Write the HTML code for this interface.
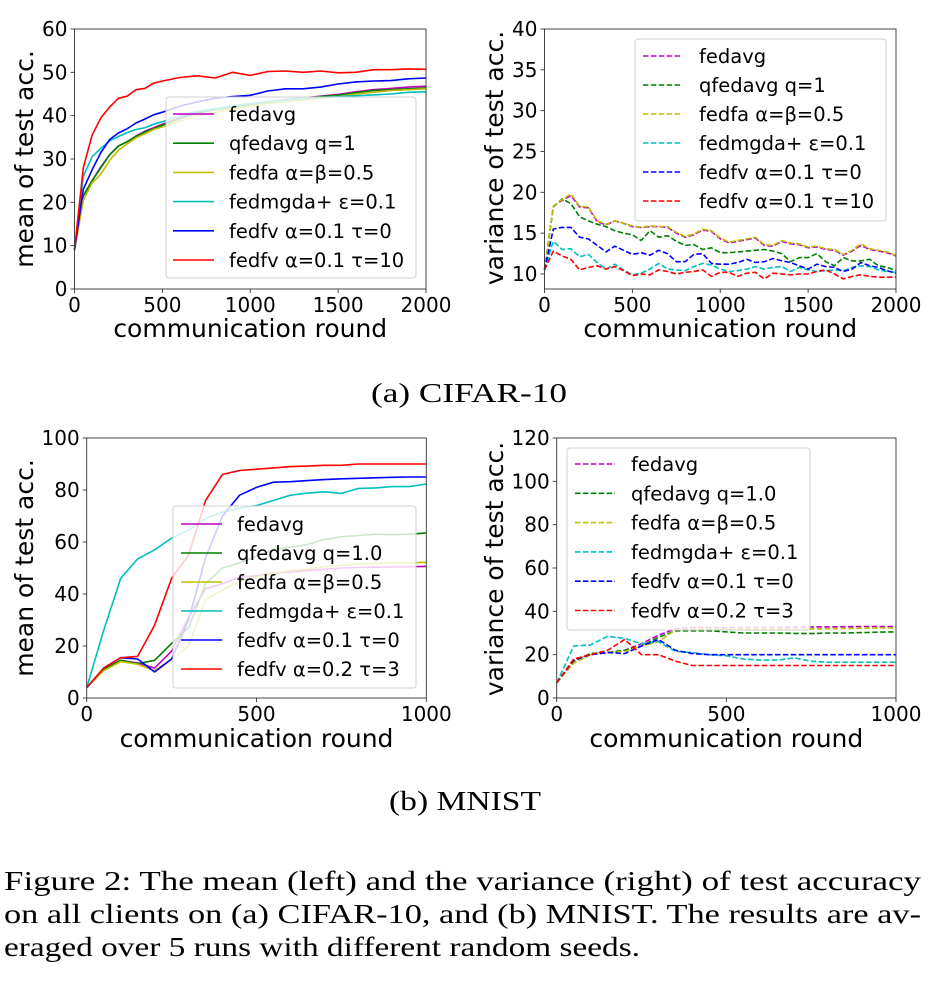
<!DOCTYPE html>
<html><head><meta charset="utf-8"><style>
html,body{margin:0;padding:0;background:#fff;}
svg{display:block;}
text{font-family:"DejaVu Sans","Liberation Sans",sans-serif;fill:#000;}
.serif{font-family:"Liberation Serif",serif;}
</style></head><body>
<svg id="fig" width="947" height="1002" viewBox="0 0 947 1002" xmlns="http://www.w3.org/2000/svg">
<text class="serif" x="371" y="402" font-size="27" textLength="196" lengthAdjust="spacingAndGlyphs">(a) CIFAR-10</text>
<text class="serif" x="389" y="810" font-size="27" textLength="152" lengthAdjust="spacingAndGlyphs">(b) MNIST</text>
<text class="serif" x="4" y="890" font-size="27" textLength="917" lengthAdjust="spacingAndGlyphs">Figure 2: The mean (left) and the variance (right) of test accuracy</text>
<text class="serif" x="4" y="923" font-size="27" textLength="917" lengthAdjust="spacingAndGlyphs">on all clients on (a) CIFAR-10, and (b) MNIST. The results are av-</text>
<text class="serif" x="4" y="956" font-size="27" textLength="636" lengthAdjust="spacingAndGlyphs">eraged over 5 runs with different random seeds.</text>
</svg>
<script>
const NS="http://www.w3.org/2000/svg";
const svg=document.getElementById('fig');
const colors=['#bf00bf','#008000','#bfbf00','#00bfbf','#0000ff','#ff0000'];
const seriesNames=['fedavg','qfedavg','fedfa','fedmgda','fedfv-a','fedfv-b'];

// ---- Chart 1: CIFAR mean ----
const c1X=[0,50,100,150,200,250,300,350,400,450,500,600,700,800,900,1000,1100,1200,1300,1400,1500,1600,1700,1800,1900,2000];
const c1Fedavg=[9,21.5,25,28.2,31,33,34,35.3,36.4,37.2,38,39.5,40.8,41.6,42.2,42.8,43.2,43.7,44.1,44.5,44.9,45.5,46,46.3,46.6,46.8];
const c1Qfedavg=[9,21.5,25,28,31,33,34,35.2,36.2,37,37.8,39.3,40.6,41.4,42,42.6,43,43.6,44,44.4,44.7,45.3,45.8,46,46.2,46.4];
const c1Fedfa=[9,20.5,24.5,26.5,29.7,32,33.5,34.9,35.8,36.8,37.4,38.7,40,40.8,41.6,42.2,42.8,43.3,43.6,44,44.4,45,45.4,45.8,46,46.2];
const c1Fedmgda=[9,26,30.5,32.5,34.2,35.2,36.1,36.8,37.2,38,38.6,40,41,41.6,42.2,42.8,43.2,43.6,44,44.2,44.4,44.6,44.8,45,45.4,45.5];
const c1FedfvA=[9,23,27.5,31.5,34.5,36,37,38.3,39.2,40.2,40.8,42.2,43.2,44,44.4,44.7,45.7,46.2,46.2,46.6,47.3,47.8,48,48.1,48.5,48.7];
const c1FedfvB=[9,28,35.5,39.5,42,44,44.5,46,46.3,47.5,48,48.8,49.2,48.7,50,49.3,50.2,50.3,50,50.3,49.9,50,50.6,50.6,50.8,50.7];
const c1XTicks=[0,500,1000,1500,2000];
const c1YTicks=[0,10,20,30,40,50,60];
const c1Labels=['fedavg','qfedavg q=1','fedfa α=β=0.5','fedmgda+ ε=0.1','fedfv α=0.1 τ=0','fedfv α=0.1 τ=10'];

// ---- Chart 2: CIFAR variance ----
const c2X=[0,50,100,150,200,250,300,350,400,450,500,550,600,650,700,750,800,850,900,950,1000,1050,1100,1150,1200,1250,1300,1350,1400,1450,1500,1550,1600,1650,1700,1750,1800,1850,1900,1950,2000];
const c2Fedavg=[10.5,18.3,19,19.6,18.2,18.1,16.4,16,16.5,16.2,15.8,15.7,15.8,15.8,15.7,15,14.5,14.8,15.4,15.2,14.3,13.8,14,14.2,14.4,13.5,13.4,14,13.7,13.6,13.2,13.3,13,12.9,12.3,12.8,13.5,13,12.8,12.6,12.2];
const c2Qfedavg=[10.5,18.2,19.2,18.6,17,16.5,16.1,15.8,15.3,15,14.8,14.1,15.3,14.5,14.7,14,13.5,13.6,13,13.2,12.6,12.6,12.7,12.8,12.9,13,12.8,12.5,11.5,12,12,12.5,11.5,11,12,11.6,11.6,11.8,11,10.8,10.4];
const c2Fedfa=[10.5,18.3,19.1,19.8,18.3,18.2,16.5,16.1,16.5,16.2,15.9,15.7,15.9,15.8,15.8,15.1,14.6,14.9,15.5,15.3,14.4,13.9,14.1,14.3,14.5,13.6,13.5,14.1,13.8,13.7,13.3,13.4,13.1,13,12.4,12.9,13.7,13.1,12.9,12.7,12.3];
const c2Fedmgda=[10.5,14,13,13.1,12.1,12.4,11.4,10.6,11.2,10.5,9.9,10.1,10.6,11.3,10.6,10.5,10.4,10.9,11.3,11.1,10.6,10.3,10.4,10.6,10.9,10.6,10.8,10.9,10.3,10.8,10.5,10.3,10.4,10.5,10.4,10.8,11,10.9,10.5,10.3,10.2];
const c2FedfvA=[10.5,15.5,15.7,15.7,14.5,14.3,13.5,12.7,13.4,12.9,12.4,12.6,12.3,12.9,12.5,11.5,11.5,12.4,12.5,11.3,11.2,11.2,11.4,11.8,11.4,11.5,11.9,11.6,11.4,11,10.6,11.2,10.9,10.8,10.3,10.6,11.4,11,10.8,10.4,10.1];
const c2FedfvB=[10.5,12.8,12.2,11.8,10.5,10.8,11,10.6,10.9,10.4,9.8,10,9.9,10.5,10.3,10,10.2,10.3,10.5,9.7,10.2,10.2,9.7,10.1,10.2,9.4,10.1,10,9.9,10,10,10.3,10.5,10,9.4,9.7,9.9,9.7,9.6,9.6,9.6];
const c2XTicks=[0,500,1000,1500,2000];
const c2YTicks=[10,15,20,25,30,35,40];
const c2Labels=['fedavg','qfedavg q=1','fedfa α=β=0.5','fedmgda+ ε=0.1','fedfv α=0.1 τ=0','fedfv α=0.1 τ=10'];

// ---- Chart 3: MNIST mean ----
const c3X=[0,50,100,150,200,250,300,350,400,450,500,550,600,650,700,750,800,850,900,950,1000];
const c3Fedavg=[4,11,14.5,13.5,11.5,18,31,42,44,46.5,47,48,48.5,49,49.5,50,50.2,50.3,50.4,50.5,50.6];
const c3Qfedavg=[4,11,14.5,13.2,14.5,21,27,44,50,52,54.5,57,58,59,61,62,62.5,63,62.8,63,63.5];
const c3Fedfa=[4,10.5,14,13,10.5,15,20,38,41.5,45,46.5,48,49,49.5,50.5,51,51.5,51.8,52,52,52.2];
const c3Fedmgda=[4,26,46,53.5,57,61.5,64.5,69,71.5,73,74,76,78,78.8,79.3,78.7,80.6,80.8,81.3,81.3,82.3];
const c3FedfvA=[4,11.5,15.5,15,10,15,30,54,70,78,81,83,83.2,83.6,84,84.3,84.5,84.7,84.9,85,85];
const c3FedfvB=[4,11.5,15.5,16,28,46,55,76,86,87.5,88,88.5,89,89.2,89.5,89.5,90,90,90,90,90];
const c3XTicks=[0,500,1000];
const c3YTicks=[0,20,40,60,80,100];
const c3Labels=['fedavg','qfedavg q=1.0','fedfa α=β=0.5','fedmgda+ ε=0.1','fedfv α=0.1 τ=0','fedfv α=0.2 τ=3'];

// ---- Chart 4: MNIST variance ----
const c4X=[0,50,100,150,200,250,300,350,400,450,500,550,600,650,700,750,800,850,900,950,1000];
const c4Fedavg=[7,17,20.5,21,22,25,29,32,32.5,32.5,32.5,32.5,32.5,32.6,32.7,32.8,32.8,32.9,33,33,33];
const c4Qfedavg=[7,17,20.5,21,22,24,28,31,31,31,30.5,30,30,30,29.8,29.7,30,30,30.2,30.4,30.5];
const c4Fedfa=[7,16,20,21,21.5,24,26,31.5,32,32,32,32,32,32,31.8,31.9,32,32.1,32.2,32.3,32.3];
const c4Fedmgda=[7,24,24.5,28.5,27.5,25,26,21.5,21,20,19.5,18,17.5,17.5,18.5,17,16.5,16.5,16.5,16.5,16.5];
const c4FedfvA=[7,17.5,20,21,20.5,24,27,22,20.5,20,20,20,20,20,20,20,20,20,20,20,20];
const c4FedfvB=[7,18,20,22,27,20,20,17,15,15,15,15,15,15,15,15,15,15,15,15,15];
const c4XTicks=[0,500,1000];
const c4YTicks=[0,20,40,60,80,100,120];
const c4Labels=['fedavg','qfedavg q=1.0','fedfa α=β=0.5','fedmgda+ ε=0.1','fedfv α=0.1 τ=0','fedfv α=0.2 τ=3'];

function mk(tag,attrs,parent){const e=document.createElementNS(NS,tag);for(const k in attrs)e.setAttribute(k,attrs[k]);(parent||svg).appendChild(e);return e;}

function chart(cfg){
  const g=mk('g',{});
  
  
  const sx=v=>cfg.x0+(v-cfg.xmin)/(cfg.xmax-cfg.xmin)*(cfg.x1-cfg.x0);
  const sy=v=>cfg.y0-(v-cfg.ymin)/(cfg.ymax-cfg.ymin)*(cfg.y0-cfg.y1);
  const plot=mk('g',{},g);
  
  
  cfg.series.forEach((s,i)=>{
    const pts=s.map((v,j)=>sx(cfg.xs[j]).toFixed(1)+','+sy(v).toFixed(1)).join(' ');
    const pl=mk('polyline',{points:pts,fill:'none',stroke:colors[i],'stroke-width':1.6,'stroke-linejoin':'round'},plot);
    if(cfg.dashed)pl.setAttribute('stroke-dasharray','5.5,2.4');
    
    
  });
  const fr=mk('rect',{x:cfg.x0,y:cfg.y1,width:cfg.x1-cfg.x0,height:cfg.y0-cfg.y1,fill:'none',stroke:'#333','stroke-width':0.9},g);
  
  
  cfg.xticks.forEach(t=>{
    const x=sx(t);
    mk('line',{x1:x,x2:x,y1:cfg.y0,y2:cfg.y0+4,stroke:'#333','stroke-width':0.9},g);
    const tx=mk('text',{x:x,y:cfg.y0+23,'font-size':20,'text-anchor':'middle'},g);
    tx.textContent=t;
    
    
  });
  cfg.yticks.forEach(t=>{
    const y=sy(t);
    mk('line',{x1:cfg.x0-4,x2:cfg.x0,y1:y,y2:y,stroke:'#333','stroke-width':0.9},g);
    const tx=mk('text',{x:cfg.x0-7,y:y+7,'font-size':20,'text-anchor':'end'},g);
    tx.textContent=t;
    
    
  });
  const xl=mk('text',{x:(cfg.x0+cfg.x1)/2,y:cfg.xlabY,'font-size':25,'text-anchor':'middle'},g);
  xl.textContent='communication round';
  
  
  const yl=mk('text',{x:0,y:0,'font-size':25,'text-anchor':'middle',transform:`translate(${cfg.ylabX},${cfg.ylabCY}) rotate(-90)`},g);
  yl.textContent=cfg.ylabel;
  
  
  const L=cfg.legend;
  const lg=mk('g',{},g);
  
  
  mk('rect',{x:L.x,y:L.y,width:L.w,height:L.h,rx:3,fill:'rgba(255,255,255,0.8)',stroke:'#d0d0d0','stroke-width':1},lg);
  cfg.labels.forEach((lab,i)=>{
    const yy=L.r0+i*L.dr;
    const ln=mk('line',{x1:L.lx0,x2:L.lx1,y1:yy,y2:yy,stroke:colors[i],'stroke-width':1.6},lg);
    if(cfg.dashed)ln.setAttribute('stroke-dasharray','5.5,2.4');
    
    
    const t=mk('text',{x:L.tx,y:yy+7,'font-size':19.5},lg);
    t.textContent=lab;
    
    
  });
}

chart({name:'cifar-mean-chart',x0:74.5,x1:426,y0:289,y1:29,xmin:0,xmax:2000,ymin:0,ymax:60,xs:c1X,
  series:[c1Fedavg,c1Qfedavg,c1Fedfa,c1Fedmgda,c1FedfvA,c1FedfvB],xticks:c1XTicks,yticks:c1YTicks,labels:c1Labels,
  dashed:false,xlabY:337,ylabX:33,ylabCY:159,ylabel:'mean of test acc.',
  legend:{x:166,y:97,w:250,h:181,r0:114,dr:29.2,lx0:173,lx1:214,tx:229}});
chart({name:'cifar-variance-chart',x0:544.5,x1:896,y0:289,y1:29,xmin:0,xmax:2000,ymin:8.16,ymax:40,xs:c2X,
  series:[c2Fedavg,c2Qfedavg,c2Fedfa,c2Fedmgda,c2FedfvA,c2FedfvB],xticks:c2XTicks,yticks:c2YTicks,labels:c2Labels,
  dashed:true,xlabY:337,ylabX:503,ylabCY:158,ylabel:'variance of test acc.',
  legend:{x:635,y:39,w:251,h:182,r0:56,dr:29,lx0:643,lx1:682,tx:699}});
chart({name:'mnist-mean-chart',x0:86.7,x1:426.3,y0:698,y1:438,xmin:0,xmax:1000,ymin:0,ymax:100,xs:c3X,
  series:[c3Fedavg,c3Qfedavg,c3Fedfa,c3Fedmgda,c3FedfvA,c3FedfvB],xticks:c3XTicks,yticks:c3YTicks,labels:c3Labels,
  dashed:false,xlabY:747,ylabX:33,ylabCY:568,ylabel:'mean of test acc.',
  legend:{x:173,y:506,w:243,h:182,r0:524,dr:29,lx0:181,lx1:222,tx:237}});
chart({name:'mnist-variance-chart',x0:556.7,x1:896,y0:698,y1:438,xmin:0,xmax:1000,ymin:0,ymax:120,xs:c4X,
  series:[c4Fedavg,c4Qfedavg,c4Fedfa,c4Fedmgda,c4FedfvA,c4FedfvB],xticks:c4XTicks,yticks:c4YTicks,labels:c4Labels,
  dashed:true,xlabY:747,ylabX:503,ylabCY:569,ylabel:'variance of test acc.',
  legend:{x:567,y:448,w:243,h:182,r0:464,dr:29.3,lx0:575,lx1:615,tx:631}});
</script>
</body></html>
